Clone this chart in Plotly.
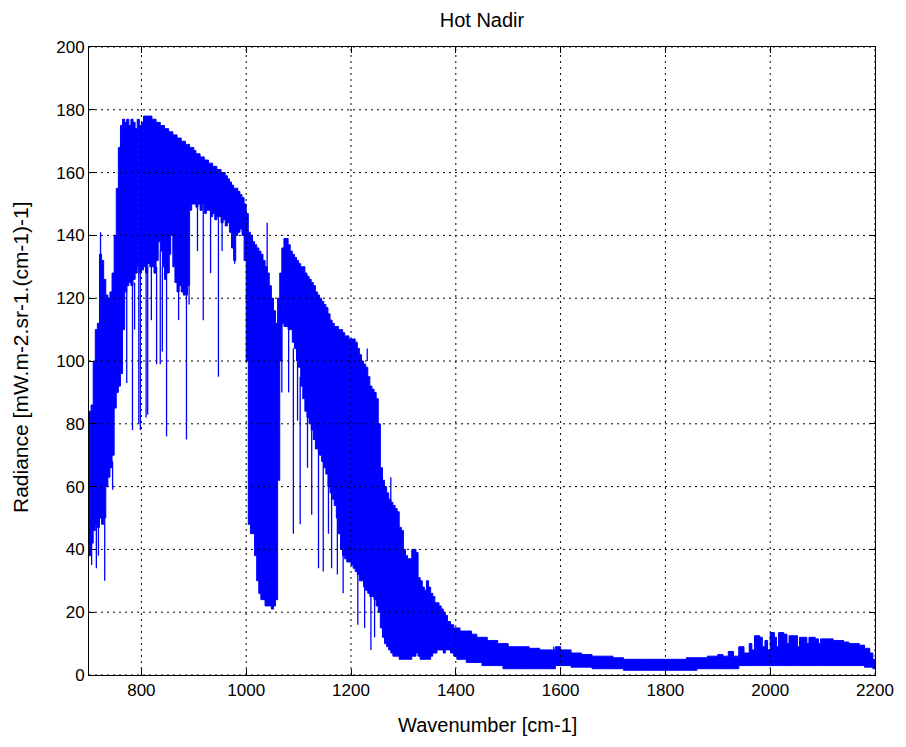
import plotly.graph_objects as go

# ---- data ----
# envelope sample positions (wavenumber, cm-1)
WN = [700, 704, 708, 712, 716, 720, 724, 728, 732, 736, 740, 744, 748, 752, 756, 760,
      764, 768, 772, 776, 780, 784, 788, 792, 796, 800, 804, 808, 812, 816, 820, 824,
      828, 832, 836, 840, 844, 848, 852, 856, 860, 864, 868, 872, 876, 880, 884, 888,
      892, 896, 900, 904, 908, 912, 916, 920, 924, 928, 932, 936, 940, 944, 948, 952,
      956, 960, 964, 968, 972, 976, 980, 984, 988, 992, 996, 1000, 1004, 1008, 1012, 1016,
      1020, 1024, 1028, 1032, 1036, 1040, 1044, 1048, 1052, 1056, 1060, 1064, 1068, 1072, 1076, 1080,
      1084, 1088, 1092, 1096, 1100, 1104, 1108, 1112, 1116, 1120, 1124, 1128, 1132, 1136, 1140, 1144,
      1148, 1152, 1156, 1160, 1164, 1168, 1172, 1176, 1180, 1184, 1188, 1192, 1196, 1200, 1204, 1208,
      1212, 1216, 1220, 1224, 1228, 1232, 1236, 1240, 1244, 1248, 1252, 1256, 1260, 1264, 1268, 1272,
      1276, 1280, 1284, 1288, 1292, 1296, 1300, 1304, 1308, 1312, 1316, 1320, 1324, 1328, 1332, 1336,
      1340, 1344, 1348, 1352, 1356, 1360, 1364, 1368, 1372, 1376, 1380, 1384, 1390, 1396, 1402, 1408,
      1414, 1420, 1430, 1440, 1450, 1460, 1470, 1480, 1490, 1500, 1520, 1540, 1560, 1580, 1590, 1600,
      1620, 1640, 1660, 1680, 1700, 1720, 1740, 1760, 1780, 1800, 1820, 1840, 1860, 1880, 1900, 1910,
      1920, 1930, 1940, 1950, 1960, 1965, 1970, 1980, 1985, 1990, 1995, 2000, 2008, 2012, 2016, 2026,
      2032, 2036, 2046, 2052, 2056, 2064, 2070, 2074, 2086, 2092, 2096, 2110, 2120, 2130, 2140, 2150,
      2160, 2170, 2180, 2190, 2196, 2200]

# upper envelope of the radiance
UPPER = [84, 86, 100, 110, 112, 134, 132, 126, 121, 120, 122, 128, 140, 155, 168, 175,
         177, 176, 177, 175, 177, 176, 174, 177, 175, 176, 178, 178, 178, 178, 177, 177,
         176, 176, 175, 175, 174, 174, 173, 173, 172, 172, 171, 171, 170, 170, 169, 169,
         168, 168, 167, 166, 166, 165, 165, 164, 164, 163, 163, 162, 162, 161, 161, 160,
         160, 159, 158, 157, 156, 155, 155, 154, 153, 152, 150, 147, 141, 140, 138, 137,
         136, 135, 134, 132, 130, 128, 124, 120, 116, 112, 120, 128, 136, 139, 139, 137,
         135, 134, 133, 132, 131, 130, 130, 128, 127, 126, 125, 124, 122, 121, 120, 119,
         118, 117, 115, 113, 112, 111, 111, 110, 110, 109, 108, 108, 107, 107, 107, 106,
         104, 102, 100, 99, 98, 95, 92, 91, 90, 88, 80, 66, 62, 60, 58, 56,
         55, 54, 53, 52, 47, 46, 40, 38, 37, 37, 40, 40, 39, 31, 30, 28,
         27, 30, 28, 26, 25, 23, 23, 22, 21, 20, 19, 17, 16, 15, 15, 14,
         14, 14, 13, 12, 12, 11, 11, 10, 10, 9, 9, 8.5, 8, 8, 9, 8,
         7, 6.5, 6, 6, 5.5, 5, 5, 5, 5, 5, 5, 5.5, 5.5, 6, 6.5, 6,
         7.5, 6, 9, 7, 10, 8, 12.5, 12, 9, 11, 8, 13.5, 12, 9, 13.5, 13,
         10, 12.5, 12.5, 9, 12, 12, 10, 12, 11.5, 10, 11.5, 11.5, 11, 11, 10.5, 10,
         10, 9.5, 8.5, 7, 5, 4]

# lower edge of the dense part of the band
LOWER = [38, 42, 46, 48, 47, 50, 48, 50, 60, 63, 66, 70, 85, 90, 92, 96,
         110, 122, 124, 125, 124, 126, 128, 130, 128, 129, 130, 128, 131, 130, 130, 128,
         132, 138, 135, 130, 126, 128, 134, 140, 130, 125, 122, 124, 122, 121, 121, 124,
         148, 150, 150, 149, 150, 148, 150, 147, 148, 148, 146, 147, 145, 146, 146, 144,
         145, 143, 144, 141, 136, 132, 140, 141, 142, 140, 132, 100, 48, 45, 45, 38,
         30, 26, 24, 24, 22, 22, 22, 21, 22, 24, 62, 100, 112, 111, 111, 110,
         110, 106, 104, 100, 98, 92, 88, 84, 82, 80, 78, 75, 72, 72, 70, 68,
         66, 64, 60, 58, 56, 54, 50, 45, 40, 38, 37, 36, 36, 35, 34, 33,
         32, 30, 30, 28, 27, 26, 25, 25, 24, 22, 20, 15, 12, 10, 9, 8,
         7, 6, 6, 6, 5, 5, 5, 5, 5, 5, 6, 6, 7, 6, 5, 5,
         5, 5, 5, 6, 7, 7, 8, 8, 8, 7, 8, 8, 7, 6, 5, 5,
         5, 4, 4, 4, 3, 3, 3, 3, 2, 2, 2, 2, 2, 2, 3, 3,
         2.5, 2.5, 2, 2, 2, 1.5, 1.5, 1.5, 1.5, 1.5, 1.5, 1.5, 2, 2, 2, 2,
         2, 2, 3, 3, 3, 3, 3, 3, 3, 3, 3, 3, 3, 3, 3, 3,
         3, 3, 3, 3, 3, 3, 3, 3, 3, 3, 3, 3, 3, 3, 3, 3,
         3, 3, 2.5, 2.5, 2, 2]

# isolated absorption / emission lines: position, bottom, top
SPIKE_WN = [705, 714, 718, 722, 730, 745, 772, 783, 787, 795, 798, 809, 812, 819, 829, 836,
            840, 848, 853, 871, 886, 891, 907, 918, 932, 947, 954, 978, 1040, 1068, 1081, 1090,
            1098, 1103, 1117, 1125, 1138, 1147, 1157, 1163, 1174, 1185, 1213, 1226, 1231, 1238, 1245, 1276,
            1587]
SPIKE_LOW = [35, 34, 38, 50, 30, 59, 93, 78, 110, 80, 78, 82, 83, 113, 99, 99,
             103, 76, 128, 113, 75, 118, 135, 113, 128, 95, 135, 131, 128, 90, 90, 45,
             81, 48, 66, 51, 34, 33, 45, 34, 32, 26, 16, 15, 100, 8, 12, 55,
             7]
SPIKE_HIGH = [45, 48, 50, 141, 52, 68, 125, 125, 125, 130, 130, 130, 130, 130, 130, 135,
              130, 128, 134, 124, 121, 124, 150, 150, 148, 146, 146, 140, 144, 112, 110, 104,
              100, 95, 84, 80, 72, 70, 62, 58, 52, 40, 33, 28, 104, 26, 25, 63,
              9]

X_TICKS = [800, 1000, 1200, 1400, 1600, 1800, 2000, 2200]
Y_TICKS = [0, 20, 40, 60, 80, 100, 120, 140, 160, 180, 200]

BLUE = "#0000FF"
FONT = "Liberation Sans"

fig = go.Figure()

fig.add_trace(go.Scatter(x=WN, y=LOWER, mode="lines",
                         line=dict(color=BLUE, width=1, shape="hv"),
                         hoverinfo="skip"))
fig.add_trace(go.Scatter(x=WN, y=UPPER, mode="lines", fill="tonexty",
                         fillcolor=BLUE,
                         line=dict(color=BLUE, width=1, shape="hv"),
                         hoverinfo="skip"))

sx, sy = [], []
for w, lo, hi in zip(SPIKE_WN, SPIKE_LOW, SPIKE_HIGH):
    sx += [w, w, None]
    sy += [lo, hi, None]
fig.add_trace(go.Scatter(x=sx, y=sy, mode="lines",
                         line=dict(color=BLUE, width=1.3),
                         hoverinfo="skip"))

# dotted grid drawn above the data (as in the original figure)
shapes = []
for v in X_TICKS:
    shapes.append(dict(type="line", xref="x", yref="paper", x0=v, x1=v, y0=0, y1=1,
                       line=dict(color="black", width=1, dash="2px,4px"), layer="above"))
for v in Y_TICKS:
    shapes.append(dict(type="line", xref="paper", yref="y", x0=0, x1=1, y0=v, y1=v,
                       line=dict(color="black", width=1, dash="2px,4px"), layer="above"))

# page body has an 8px margin, so the figure is placed at (8, 8) in the window
fig.update_layout(
    width=898, height=739,
    margin=dict(l=81, r=25, t=39, b=72),
    paper_bgcolor="white", plot_bgcolor="white",
    showlegend=False,
    shapes=shapes,
    font=dict(family=FONT, size=17, color="black"),
    title=dict(text="Hot Nadir", x=0.5, xref="paper", xanchor="center",
               y=1 - 12 / 739, yref="container", yanchor="middle",
               font=dict(family=FONT, size=20, color="black")),
    annotations=[
        dict(text="Wavenumber [cm-1]", xref="paper", yref="paper", x=0.5, y=0,
             xanchor="center", yanchor="middle", yshift=-50, xshift=5, showarrow=False,
             font=dict(family=FONT, size=20, color="black")),
        dict(text="Radiance [mW.m-2.sr-1.(cm-1)-1]", xref="paper", yref="paper",
             x=0, y=0.5, xanchor="center", yanchor="middle", xshift=-69, yshift=4,
             textangle=-90, showarrow=False,
             font=dict(family=FONT, size=21, color="black")),
    ],
)
fig.update_xaxes(range=[700, 2200], tickvals=X_TICKS, showgrid=False, zeroline=False,
                 showline=True, linecolor="black", linewidth=1, mirror="ticks",
                 ticks="inside", ticklen=6, tickcolor="black",
                 tickfont=dict(family=FONT, size=17, color="black"))
fig.update_yaxes(range=[0, 200], tickvals=Y_TICKS, showgrid=False, zeroline=False,
                 showline=True, linecolor="black", linewidth=1, mirror="ticks",
                 ticks="inside", ticklen=6, tickcolor="black",
                 tickfont=dict(family=FONT, size=17, color="black"))

fig.write_html("out.html")
